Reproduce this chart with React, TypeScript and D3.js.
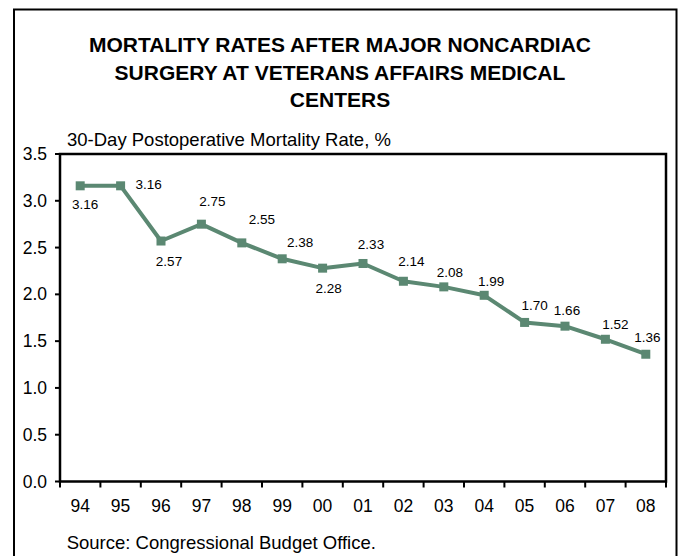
import React from "react";
import * as d3 from "d3";

const years = ["94", "95", "96", "97", "98", "99", "00", "01", "02", "03", "04", "05", "06", "07", "08"];
const rates = [3.16, 3.16, 2.57, 2.75, 2.55, 2.38, 2.28, 2.33, 2.14, 2.08, 1.99, 1.70, 1.66, 1.52, 1.36];
const yTicks = [0, 0.5, 1.0, 1.5, 2.0, 2.5, 3.0, 3.5];
const titleLines = [
  "MORTALITY RATES AFTER MAJOR NONCARDIAC",
  "SURGERY AT VETERANS AFFAIRS MEDICAL",
  "CENTERS",
];
const axisTitle = "30-Day Postoperative Mortality Rate, %";
const sourceText = "Source: Congressional Budget Office.";

// label placement offsets (layout only): [dx, dy] of label centre relative to point
const labelOffsets: [number, number][] = [
  [5, 18], [28, -2], [8, 20], [11, -23], [20, -24], [18, -17], [6, 20],
  [8, -19], [8, -20], [6, -15], [7, -14], [10, -17], [2, -16], [10, -15], [1.5, -17],
];

const W = 678;
const H = 556;
const plot = { left: 60, right: 666, top: 154, bottom: 481.5 };
const lineColor = "#5b8872";
const font = "Arial, 'Liberation Sans', sans-serif";

export default function App() {
  const x = d3.scaleBand<string>().domain(years).range([plot.left, plot.right]);
  const y = d3.scaleLinear().domain([0, 3.5]).range([plot.bottom, plot.top]);
  const cx = (i: number) => (x(years[i]) as number) + x.bandwidth() / 2;
  const line = d3
    .line<number>()
    .x((_, i) => cx(i))
    .y((d) => y(d));
  const boundaries = years.map((yr) => x(yr) as number).concat([plot.right]);

  return (
    <svg
      width={W}
      height={H}
      style={{ position: "absolute", left: 0, top: 0, background: "#fff" }}
      fontFamily={font}
    >
      <rect x={0} y={0} width={W} height={H} fill="#fff" />
      {/* outer frame */}
      <rect x={14} y={9.5} width={662.5} height={H + 20} fill="none" stroke="#000" strokeWidth={2} />
      {/* title */}
      {titleLines.map((t, i) => (
        <text
          key={i}
          x={340}
          y={52.3 + i * 27.5}
          textAnchor="middle"
          fontSize={21}
          fontWeight="bold"
          fill="#000"
        >
          {t}
        </text>
      ))}
      <text x={67} y={146} fontSize={18.5} fill="#000">
        {axisTitle}
      </text>
      {/* plot frame */}
      <rect
        x={plot.left}
        y={plot.top}
        width={plot.right - plot.left}
        height={plot.bottom - plot.top}
        fill="none"
        stroke="#000"
        strokeWidth={2.5}
      />
      {/* y ticks */}
      {yTicks.map((t) => (
        <g key={t}>
          <line x1={plot.left - 5} x2={plot.left} y1={y(t)} y2={y(t)} stroke="#000" strokeWidth={2} />
          <text x={47} y={y(t)} dy="0.35em" textAnchor="end" fontSize={17.5} fill="#000">
            {d3.format(".1f")(t)}
          </text>
        </g>
      ))}
      {/* x ticks */}
      {boundaries.map((b, i) => (
        <line key={i} x1={b} x2={b} y1={plot.bottom} y2={plot.bottom + 6} stroke="#000" strokeWidth={2} />
      ))}
      {years.map((yr, i) => (
        <text key={yr} x={cx(i)} y={511.7} textAnchor="middle" fontSize={17.5} fill="#000">
          {yr}
        </text>
      ))}
      {/* line */}
      <path d={line(rates) || ""} fill="none" stroke={lineColor} strokeWidth={4} strokeLinejoin="round" />
      {rates.map((r, i) => (
        <rect key={i} x={cx(i) - 4.5} y={y(r) - 4.5} width={9} height={9} fill={lineColor} />
      ))}
      {/* data labels */}
      {rates.map((r, i) => (
        <text
          key={i}
          x={cx(i) + labelOffsets[i][0]}
          y={y(r) + labelOffsets[i][1]}
          dy="0.35em"
          textAnchor="middle"
          fontSize={13.5}
          fill="#000"
        >
          {d3.format(".2f")(r)}
        </text>
      ))}
      <text x={66.7} y={549} fontSize={18.5} fill="#000">
        {sourceText}
      </text>
    </svg>
  );
}
